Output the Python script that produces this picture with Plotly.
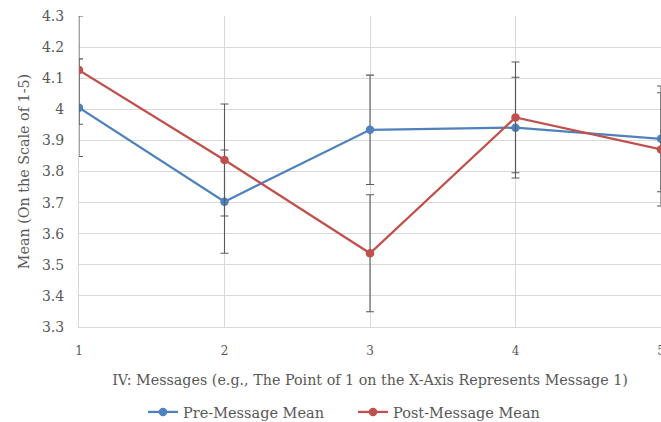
import plotly.graph_objects as go

messages = [1, 2, 3, 4, 5]
pre_mean = [4.005, 3.703, 3.934, 3.941, 3.905]
pre_err = [0.157, 0.166, 0.176, 0.162, 0.170]
post_mean = [4.126, 3.837, 3.537, 3.974, 3.871]
post_err = [0.174, 0.180, 0.188, 0.178, 0.182]
y_ticks = [3.3, 3.4, 3.5, 3.6, 3.7, 3.8, 3.9, 4.0, 4.1, 4.2, 4.3]
y_tick_labels = ["3.3", "3.4", "3.5", "3.6", "3.7", "3.8", "3.9", "4", "4.1", "4.2", "4.3"]

FONT = "DejaVu Serif"
GRAY = "#595959"

fig = go.Figure()
fig.add_trace(go.Scatter(
    x=messages, y=pre_mean, name="Pre-Message Mean", mode="lines+markers",
    line=dict(color="#4F81BD", width=2.25), marker=dict(size=8.5, color="#4F81BD"),
    error_y=dict(type="data", array=pre_err, visible=True, color=GRAY, thickness=1.1, width=4),
))
fig.add_trace(go.Scatter(
    x=messages, y=post_mean, name="Post-Message Mean", mode="lines+markers",
    line=dict(color="#C0504D", width=2.25), marker=dict(size=8.5, color="#C0504D"),
    error_y=dict(type="data", array=post_err, visible=True, color=GRAY, thickness=1.1, width=4),
))

fig.update_layout(
    width=661, height=422,
    margin=dict(l=79, r=0, t=16, b=95),
    paper_bgcolor="white", plot_bgcolor="white",
    font=dict(family=FONT, size=13, color=GRAY),
    showlegend=True,
    legend=dict(orientation="h", xref="paper", x=0.110, xanchor="left",
                yref="container", y=10 / 422, yanchor="middle",
                font=dict(family=FONT, size=14.5, color=GRAY), itemwidth=30,
                entrywidth=165),
)
fig.update_xaxes(
    range=[1, 5], tickmode="array", tickvals=messages, ticktext=[str(m) for m in messages],
    showgrid=True, gridcolor="#D9D9D9", gridwidth=1,
    showline=True, linecolor="#D9D9D9", linewidth=1, zeroline=False,
    ticks="", tickfont=dict(size=12, color=GRAY), automargin=False, ticklabelstandoff=13,
    ticklabeloverflow="allow",
    title=dict(text="IV: Messages (e.g., The Point of 1 on the X-Axis Represents Message 1)",
               font=dict(size=14.3, color=GRAY), standoff=17),
)
fig.update_yaxes(
    range=[3.3, 4.3], tickmode="array", tickvals=y_ticks, ticktext=y_tick_labels,
    showgrid=True, gridcolor="#D9D9D9", gridwidth=1,
    showline=True, linecolor="#D9D9D9", linewidth=1, zeroline=False,
    ticks="", tickfont=dict(size=14, color=GRAY), ticklabelstandoff=11, automargin=False,
    ticklabeloverflow="allow",
    title=dict(text="Mean (On the Scale of 1-5)", font=dict(size=14.3, color=GRAY), standoff=8),
)

# remove the browser's default 8px body margin so the 661x422 figure fills the window exactly
fig.write_html("out.html", config={"displayModeBar": False},
               post_script="document.body.style.margin='0';document.body.style.overflow='hidden';")
